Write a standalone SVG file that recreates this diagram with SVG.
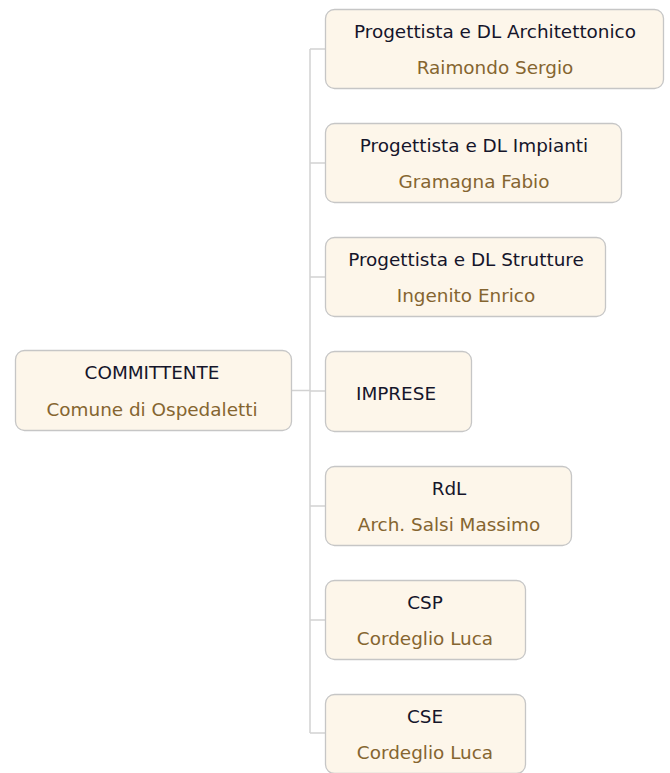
<svg xmlns="http://www.w3.org/2000/svg" width="670" height="773" viewBox="0 0 670 773">
<style>
.box{fill:#fdf6ea;stroke:#c6c6c6;stroke-width:1.3}
.t{font-family:"DejaVu Sans",Tahoma,sans-serif;font-size:18.4px;fill:#15152a;text-anchor:middle}
.s{font-family:"DejaVu Sans",Tahoma,sans-serif;font-size:18.4px;fill:#856530;text-anchor:middle}
.c{fill:none;stroke:#d2d2d2;stroke-width:1.5}
</style>
<rect width="670" height="773" fill="#ffffff"/>
<g id="connectors">
<path class="c" d="M292 390.5H310"/>
<path class="c" d="M310 49V733"/>
<path class="c" d="M310 49H325M310 163H325M310 277H325M310 391H325M310 506H325M310 620H325M310 733H325"/>
</g>
<g id="committente">
<rect class="box" x="15.5" y="350.5" width="276" height="80" rx="9"/>
<text class="t" x="152" y="379">COMMITTENTE</text>
<text class="s" x="152" y="416">Comune di Ospedaletti</text>
</g>
<g id="arch">
<rect class="box" x="325.5" y="9.5" width="338" height="79" rx="9"/>
<text class="t" x="495" y="38">Progettista e DL Architettonico</text>
<text class="s" x="495" y="74">Raimondo Sergio</text>
</g>
<g id="impianti">
<rect class="box" x="325.5" y="123.5" width="296" height="79" rx="9"/>
<text class="t" x="474" y="152">Progettista e DL Impianti</text>
<text class="s" x="474" y="188">Gramagna Fabio</text>
</g>
<g id="strutture">
<rect class="box" x="325.5" y="237.5" width="280" height="79" rx="9"/>
<text class="t" x="466" y="266">Progettista e DL Strutture</text>
<text class="s" x="466" y="302">Ingenito Enrico</text>
</g>
<g id="imprese">
<rect class="box" x="325.5" y="351.5" width="146" height="80" rx="9"/>
<text class="t" x="396" y="400">IMPRESE</text>
</g>
<g id="rdl">
<rect class="box" x="325.5" y="466.5" width="246" height="79" rx="9"/>
<text class="t" x="449" y="495">RdL</text>
<text class="s" x="449" y="531">Arch. Salsi Massimo</text>
</g>
<g id="csp">
<rect class="box" x="325.5" y="580.5" width="200" height="79" rx="9"/>
<text class="t" x="425" y="609">CSP</text>
<text class="s" x="425" y="645">Cordeglio Luca</text>
</g>
<g id="cse">
<rect class="box" x="325.5" y="694.5" width="200" height="79" rx="9"/>
<text class="t" x="425" y="723">CSE</text>
<text class="s" x="425" y="759">Cordeglio Luca</text>
</g>
</svg>
